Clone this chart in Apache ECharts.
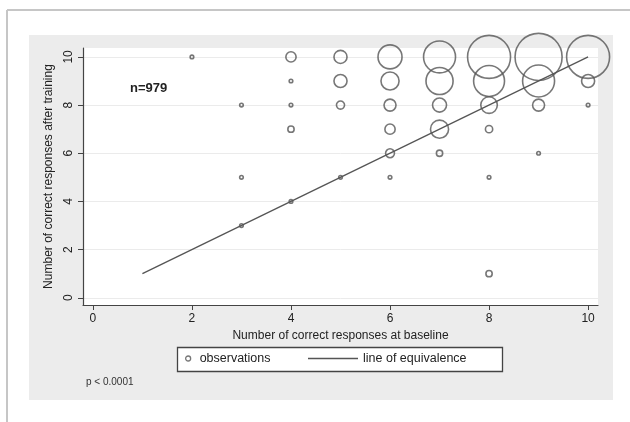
<!DOCTYPE html>
<html>
<head>
<meta charset="utf-8">
<script src="https://cdn.jsdelivr.net/npm/echarts@6/dist/echarts.min.js"></script>
<style>
html,body{margin:0;padding:0;background:#fff;}
#c{width:630px;height:422px;}
</style>
</head>
<body>
<div id="c"></div>
<script>
// Data
const baseline = [2, 3,3,3, 4,4,4,4,4, 5,5,5,5, 6,6,6,6,6,6, 7,7,7,7,7, 8,8,8,8,8,8, 9,9,9,9, 10,10,10];
const afterTraining = [10, 8,5,3, 10,9,8,7,4, 10,9,8,5, 10,9,8,7,6,5, 10,9,8,7,6, 10,9,8,7,5,1, 10,9,8,6, 10,9,8];
const counts = [1, 1,1,1, 8,1,1,3,1, 13,13,5,1, 44,25,11,8,6,1, 78,56,15,25,3, 141,73,21,4,1,3, 169,78,11,1, 141,13,1];
const equivalenceLine = [[1, 1], [10, 10]];
const tickValues = [0, 2, 4, 6, 8, 10];
const sampleLabel = 'n=979';
const pLabel = 'p < 0.0001';

const FONT = '"Liberation Sans", Arial, Helvetica, sans-serif';
const ink = '#555';

const points = baseline.map((x, i) => [x, afterTraining[i], counts[i]]);

const chart = echarts.init(document.getElementById('c'), null, {renderer: 'canvas'});
chart.setOption({
  backgroundColor: '#fff',
  animation: false,
  textStyle: {fontFamily: FONT},
  graphic: [
    {type: 'rect', z: -10, shape: {x: 29, y: 35, width: 584, height: 365}, style: {fill: '#ececec'}, silent: true},
    {type: 'line', z: -10, shape: {x1: 7, y1: 10, x2: 630, y2: 10}, style: {stroke: '#c6c6c6', lineWidth: 2}, silent: true},
    {type: 'line', z: -10, shape: {x1: 7, y1: 10, x2: 7, y2: 422}, style: {stroke: '#c6c6c6', lineWidth: 2}, silent: true},
    {type: 'rect', z: -5, shape: {x: 177.5, y: 347.5, width: 325, height: 24}, style: {fill: '#fff', stroke: '#444', lineWidth: 1.3}, silent: true},
    {type: 'text', z: 10, left: 130, top: 82, style: {text: sampleLabel, font: 'bold 13px ' + FONT, fill: '#222'}},
    {type: 'text', z: 10, left: 86, top: 377, style: {text: pLabel, font: '10px ' + FONT, fill: '#333'}}
  ],
  grid: {
    left: 83, right: 32, top: 48, bottom: 117,
    show: true, backgroundColor: '#fff', borderWidth: 0
  },
  legend: [
    {
      left: 185, top: 352, padding: 0, selectedMode: false,
      itemWidth: 5, itemHeight: 5,
      textStyle: {fontSize: 12.5, color: '#222', fontFamily: FONT, padding: [0, 0, 0, 4]},
      data: [{name: 'observations', icon: 'circle', itemStyle: {color: 'rgba(0,0,0,0)', borderColor: ink, borderWidth: 1.3}}]
    },
    {
      left: 308, top: 352, padding: 0, selectedMode: false,
      itemWidth: 50, itemHeight: 1.4,
      textStyle: {fontSize: 12.5, color: '#222', fontFamily: FONT},
      data: [{name: 'line of equivalence', icon: 'rect', itemStyle: {color: ink, borderWidth: 0}}]
    }
  ],
  xAxis: {
    type: 'value', min: -0.2, max: 10.2,
    name: 'Number of correct responses at baseline',
    nameLocation: 'middle', nameGap: 21,
    nameTextStyle: {fontSize: 12, color: '#222', fontFamily: FONT},
    axisLine: {show: true, onZero: false, lineStyle: {color: '#444', width: 1.2}},
    axisTick: {show: true, inside: false, length: 5, customValues: tickValues, lineStyle: {color: '#444'}},
    axisLabel: {customValues: tickValues, fontSize: 12, color: '#222', margin: 8, fontFamily: FONT},
    splitLine: {show: false}
  },
  yAxis: {
    type: 'value', min: -0.3, max: 10.37,
    name: 'Number of correct responses after training',
    nameLocation: 'middle', nameGap: 22,
    nameTextStyle: {fontSize: 12, color: '#222', fontFamily: FONT},
    axisLine: {show: true, onZero: false, lineStyle: {color: '#444', width: 1.2}},
    axisTick: {show: true, inside: false, length: 5, customValues: tickValues, lineStyle: {color: '#444'}},
    axisLabel: {customValues: tickValues, rotate: 90, fontSize: 12, color: '#222', margin: 8, fontFamily: FONT},
    splitLine: {show: true, lineStyle: {color: '#ebebeb', width: 1}}
  },
  series: [
    {
      name: 'observations', type: 'scatter', clip: false,
      data: points,
      symbol: 'circle',
      symbolSize: d => 3.62 * Math.sqrt(d[2]),
      itemStyle: {color: 'rgba(0,0,0,0)', borderColor: ink, borderWidth: 1.6},
      emphasis: {disabled: true},
      z: 3
    },
    {
      name: 'line of equivalence', type: 'line',
      data: equivalenceLine,
      showSymbol: false, symbol: 'none',
      lineStyle: {color: ink, width: 1.3},
      itemStyle: {color: ink},
      emphasis: {disabled: true},
      z: 2
    }
  ]
});
</script>
</body>
</html>
